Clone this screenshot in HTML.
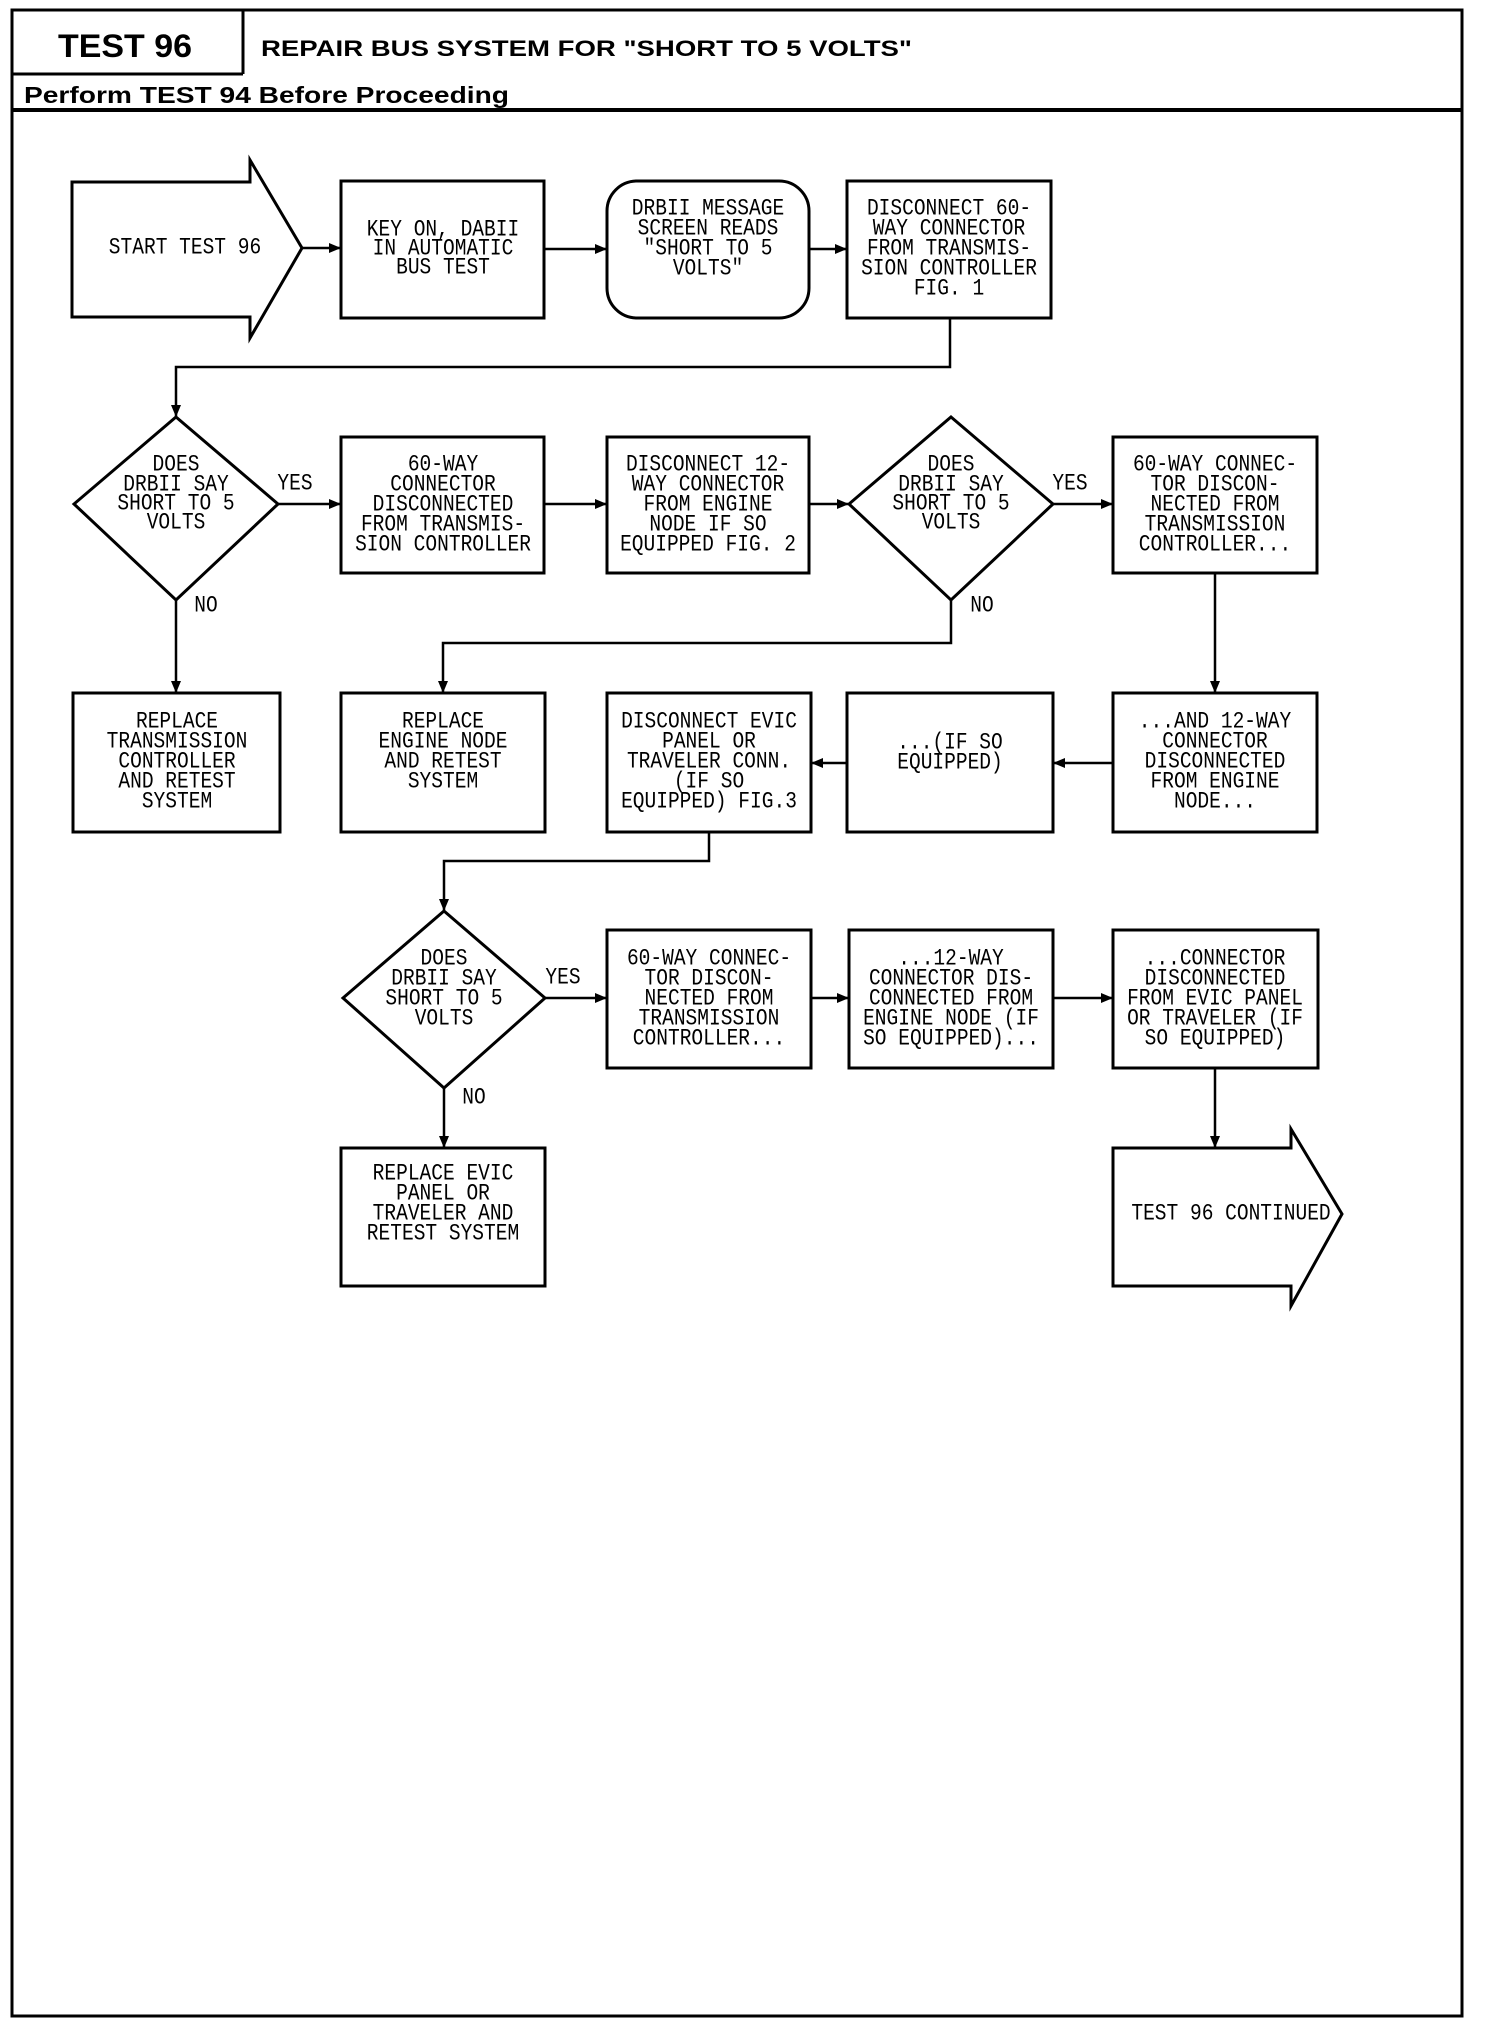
<!DOCTYPE html>
<html><head><meta charset="utf-8"><style>
html,body{margin:0;padding:0;background:#fff;}
svg{display:block}
.t{font-family:"Liberation Mono",monospace;font-size:23px;text-anchor:middle;dominant-baseline:central;fill:#000}
.h{font-family:"Liberation Sans",sans-serif;font-weight:bold;fill:#000}
</style></head><body>
<svg width="1504" height="2024" viewBox="0 0 1504 2024" xmlns="http://www.w3.org/2000/svg">
<defs><marker id="a" markerWidth="12" markerHeight="10" refX="11" refY="5" orient="auto" markerUnits="userSpaceOnUse"><path d="M0,0 L12,5 L0,10 Z" fill="#000"/></marker></defs>
<g fill="none" stroke="#000" stroke-width="3">
<rect x="12" y="10" width="1450" height="2006"/>
<line x1="12" y1="74" x2="243" y2="74"/>
<line x1="243" y1="10" x2="243" y2="74"/>
<line x1="12" y1="110" x2="1462" y2="110" stroke-width="4"/>
<path d="M72,182 H250 V160 L302,248 L250,338 V317 H72 Z"/>
<rect x="341" y="181" width="203" height="137"/>
<rect x="607" y="181" width="202" height="137" rx="30"/>
<rect x="847" y="181" width="204" height="137"/>
<path d="M176,417 L278,504 L176,600 L74,504 Z"/>
<rect x="341" y="437" width="203" height="136"/>
<rect x="607" y="437" width="202" height="136"/>
<path d="M951,417 L1053,504 L951,600 L849,504 Z"/>
<rect x="1113" y="437" width="204" height="136"/>
<rect x="73" y="693" width="207" height="139"/>
<rect x="341" y="693" width="204" height="139"/>
<rect x="607" y="693" width="204" height="139"/>
<rect x="847" y="693" width="206" height="139"/>
<rect x="1113" y="693" width="204" height="139"/>
<path d="M444,911 L545,998 L444,1088 L343,998 Z"/>
<rect x="607" y="930" width="204" height="138"/>
<rect x="849" y="930" width="204" height="138"/>
<rect x="1113" y="930" width="205" height="138"/>
<rect x="341" y="1148" width="204" height="138"/>
<path d="M1113,1148 H1291 V1129 L1342,1214 L1291,1306 V1286 H1113 Z"/>
</g>
<g fill="none" stroke="#000" stroke-width="2.5" marker-end="url(#a)">
<path d="M302,248 H340"/>
<path d="M544,249 H606"/>
<path d="M809,249 H846"/>
<path d="M950,318 V367 H176 V416"/>
<path d="M278,504 H340"/>
<path d="M544,504 H606"/>
<path d="M809,504 H848"/>
<path d="M1053,504 H1112"/>
<path d="M176,600 V692"/>
<path d="M951,600 V643 H443 V692"/>
<path d="M1215,573 V692"/>
<path d="M1113,763 H1054"/>
<path d="M847,763 H812"/>
<path d="M709,832 V861 H444 V910"/>
<path d="M545,998 H606"/>
<path d="M811,998 H848"/>
<path d="M1053,998 H1112"/>
<path d="M444,1088 V1147"/>
<path d="M1215,1068 V1147"/>
</g>
<text class="h" x="58" y="57" font-size="32" textLength="134" lengthAdjust="spacingAndGlyphs">TEST 96</text>
<text class="h" x="261" y="56" font-size="22" textLength="651" lengthAdjust="spacingAndGlyphs">REPAIR BUS SYSTEM FOR "SHORT TO 5 VOLTS"</text>
<text class="h" x="24" y="103" font-size="23" textLength="485" lengthAdjust="spacingAndGlyphs">Perform TEST 94 Before Proceeding</text>

<text class="t" transform="translate(185,0) scale(.85 1)" y="248">START TEST 96</text>
<text class="t" transform="translate(443,0) scale(.85 1)" y="230"><tspan x="0">KEY ON, DABII</tspan><tspan x="0" dy="19">IN AUTOMATIC</tspan><tspan x="0" dy="19">BUS TEST</tspan></text>
<text class="t" transform="translate(708,0) scale(.85 1)" y="209"><tspan x="0">DRBII MESSAGE</tspan><tspan x="0" dy="20">SCREEN READS</tspan><tspan x="0" dy="20">"SHORT TO 5</tspan><tspan x="0" dy="20">VOLTS"</tspan></text>
<text class="t" transform="translate(949,0) scale(.85 1)" y="209"><tspan x="0">DISCONNECT 60-</tspan><tspan x="0" dy="20">WAY CONNECTOR</tspan><tspan x="0" dy="20">FROM TRANSMIS-</tspan><tspan x="0" dy="20">SION CONTROLLER</tspan><tspan x="0" dy="20">FIG. 1</tspan></text>

<text class="t" transform="translate(176,0) scale(.85 1)" y="465"><tspan x="0">DOES</tspan><tspan x="0" dy="20">DRBII SAY</tspan><tspan x="0" dy="19">SHORT TO 5</tspan><tspan x="0" dy="19">VOLTS</tspan></text>
<text class="t" transform="translate(443,0) scale(.85 1)" y="465"><tspan x="0">60-WAY</tspan><tspan x="0" dy="20">CONNECTOR</tspan><tspan x="0" dy="20">DISCONNECTED</tspan><tspan x="0" dy="20">FROM TRANSMIS-</tspan><tspan x="0" dy="20">SION CONTROLLER</tspan></text>
<text class="t" transform="translate(708,0) scale(.85 1)" y="465"><tspan x="0">DISCONNECT 12-</tspan><tspan x="0" dy="20">WAY CONNECTOR</tspan><tspan x="0" dy="20">FROM ENGINE</tspan><tspan x="0" dy="20">NODE IF SO</tspan><tspan x="0" dy="20">EQUIPPED FIG. 2</tspan></text>
<text class="t" transform="translate(951,0) scale(.85 1)" y="465"><tspan x="0">DOES</tspan><tspan x="0" dy="20">DRBII SAY</tspan><tspan x="0" dy="19">SHORT TO 5</tspan><tspan x="0" dy="19">VOLTS</tspan></text>
<text class="t" transform="translate(1215,0) scale(.85 1)" y="465"><tspan x="0">60-WAY CONNEC-</tspan><tspan x="0" dy="20">TOR DISCON-</tspan><tspan x="0" dy="20">NECTED FROM</tspan><tspan x="0" dy="20">TRANSMISSION</tspan><tspan x="0" dy="20">CONTROLLER...</tspan></text>
<text class="t" transform="translate(295,0) scale(.85 1)" y="484">YES</text>
<text class="t" transform="translate(1070,0) scale(.85 1)" y="484">YES</text>
<text class="t" transform="translate(206,0) scale(.85 1)" y="606">NO</text>
<text class="t" transform="translate(982,0) scale(.85 1)" y="606">NO</text>

<text class="t" transform="translate(177,0) scale(.85 1)" y="722"><tspan x="0">REPLACE</tspan><tspan x="0" dy="20">TRANSMISSION</tspan><tspan x="0" dy="20">CONTROLLER</tspan><tspan x="0" dy="20">AND RETEST</tspan><tspan x="0" dy="20">SYSTEM</tspan></text>
<text class="t" transform="translate(443,0) scale(.85 1)" y="722"><tspan x="0">REPLACE</tspan><tspan x="0" dy="20">ENGINE NODE</tspan><tspan x="0" dy="20">AND RETEST</tspan><tspan x="0" dy="20">SYSTEM</tspan></text>
<text class="t" transform="translate(709,0) scale(.85 1)" y="722"><tspan x="0">DISCONNECT EVIC</tspan><tspan x="0" dy="20">PANEL OR</tspan><tspan x="0" dy="20">TRAVELER CONN.</tspan><tspan x="0" dy="20">(IF SO</tspan><tspan x="0" dy="20">EQUIPPED) FIG.3</tspan></text>
<text class="t" transform="translate(950,0) scale(.85 1)" y="743"><tspan x="0">...(IF SO</tspan><tspan x="0" dy="20">EQUIPPED)</tspan></text>
<text class="t" transform="translate(1215,0) scale(.85 1)" y="722"><tspan x="0">...AND 12-WAY</tspan><tspan x="0" dy="20">CONNECTOR</tspan><tspan x="0" dy="20">DISCONNECTED</tspan><tspan x="0" dy="20">FROM ENGINE</tspan><tspan x="0" dy="20">NODE...</tspan></text>

<text class="t" transform="translate(444,0) scale(.85 1)" y="959"><tspan x="0">DOES</tspan><tspan x="0" dy="20">DRBII SAY</tspan><tspan x="0" dy="20">SHORT TO 5</tspan><tspan x="0" dy="20">VOLTS</tspan></text>
<text class="t" transform="translate(563,0) scale(.85 1)" y="978">YES</text>
<text class="t" transform="translate(474,0) scale(.85 1)" y="1098">NO</text>
<text class="t" transform="translate(709,0) scale(.85 1)" y="959"><tspan x="0">60-WAY CONNEC-</tspan><tspan x="0" dy="20">TOR DISCON-</tspan><tspan x="0" dy="20">NECTED FROM</tspan><tspan x="0" dy="20">TRANSMISSION</tspan><tspan x="0" dy="20">CONTROLLER...</tspan></text>
<text class="t" transform="translate(951,0) scale(.85 1)" y="959"><tspan x="0">...12-WAY</tspan><tspan x="0" dy="20">CONNECTOR DIS-</tspan><tspan x="0" dy="20">CONNECTED FROM</tspan><tspan x="0" dy="20">ENGINE NODE (IF</tspan><tspan x="0" dy="20">SO EQUIPPED)...</tspan></text>
<text class="t" transform="translate(1215,0) scale(.85 1)" y="959"><tspan x="0">...CONNECTOR</tspan><tspan x="0" dy="20">DISCONNECTED</tspan><tspan x="0" dy="20">FROM EVIC PANEL</tspan><tspan x="0" dy="20">OR TRAVELER (IF</tspan><tspan x="0" dy="20">SO EQUIPPED)</tspan></text>
<text class="t" transform="translate(443,0) scale(.85 1)" y="1174"><tspan x="0">REPLACE EVIC</tspan><tspan x="0" dy="20">PANEL OR</tspan><tspan x="0" dy="20">TRAVELER AND</tspan><tspan x="0" dy="20">RETEST SYSTEM</tspan></text>
<text class="t" transform="translate(1231,0) scale(.85 1)" y="1214">TEST 96 CONTINUED</text>
</svg>
</body></html>
